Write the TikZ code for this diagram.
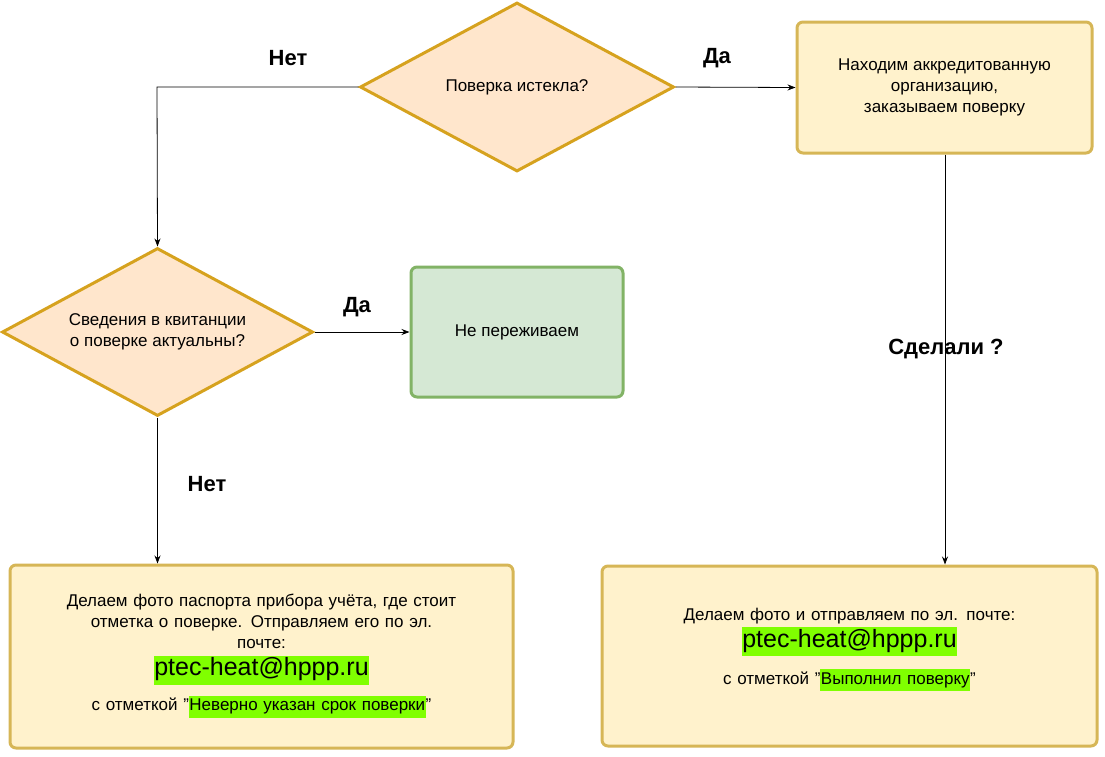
\documentclass[tikz,border=0pt]{standalone}
\usepackage{fontspec}
\setmainfont{Liberation Sans}
\usetikzlibrary{shapes.geometric,arrows.meta}
\definecolor{dfill}{HTML}{FFE6CC}
\definecolor{gold}{HTML}{D6A21E}
\definecolor{yfill}{HTML}{FFF2CC}
\definecolor{yline}{HTML}{D6B656}
\definecolor{gfill}{HTML}{D5E8D4}
\definecolor{gline}{HTML}{82B366}
\definecolor{hl}{HTML}{80FF00}
\newcommand{\hlt}[1]{{\setlength{\fboxsep}{0.5pt}\colorbox{hl}{\strut #1}}}
\begin{document}
\begin{tikzpicture}[x=1pt,y=-1pt,font=\fontsize{17}{21}\selectfont,
  dia/.style={diamond,draw=gold,fill=dfill,line width=3pt,inner sep=0pt,align=center},
  box/.style={draw=yline,fill=yfill,line width=3pt,rounded corners=6pt,align=center,inner sep=0pt},
  gbox/.style={draw=gline,fill=gfill,line width=3pt,rounded corners=6pt,align=center,inner sep=0pt},
  arr/.style={-{Stealth[length=8pt,width=6pt]},line width=0.8pt},
  lab/.style={font=\fontsize{22}{26}\selectfont\bfseries}]
\useasboundingbox (0,0) rectangle (1105,756);
\node[dia,minimum width=314pt,minimum height=169pt,aspect=1.86] (d1) at (517,87) {Поверка истекла?};
\node[box,minimum width=295pt,minimum height=131pt] (b1) at (944.5,87.5) {Находим аккредитованную\\организацию,\\заказываем поверку};
\node[dia,minimum width=311pt,minimum height=168pt,aspect=1.85] (d2) at (157.5,332) {Сведения в квитанции\\о поверке актуальны?};
\node[gbox,minimum width=212pt,minimum height=130pt] (g) at (517,332) {Не переживаем};
\node[box,minimum width=503pt,minimum height=183pt] (b2) at (261.5,656.5) {};
\node[align=center,text width=500pt] (t2) at (261.5,656) {Делаем фото паспорта прибора учёта, где стоит\\отметка о поверке. Отправляем его по эл.\\почте:\\[6pt]{\fontsize{25}{28}\selectfont\hlt{ptec-heat@hppp.ru}}\\[10pt]с отметкой "\hlt{Неверно указан срок поверки}"};
\node[box,minimum width=495pt,minimum height=180pt] (b3) at (849.5,656) {};
\node[align=center,text width=490pt] (t3) at (849.5,650) {Делаем фото и отправляем по эл. почте:\\[2pt]{\fontsize{25}{28}\selectfont\hlt{ptec-heat@hppp.ru}}\\[12pt]с отметкой "\hlt{Выполнил поверку}"};
\coordinate (c1) at (157,87);
\draw[arr] (d1.west) -- (c1) -- (d2.north);
\draw[arr] (d1.east) -- (b1.west);
\draw[arr] (d2.east) -- (g.west);
\draw[arr] (d2.south) -- (b2.north -| d2.south);
\draw[arr] (b1.south -| 945,0) -- (b3.north -| 945,0);
\node[lab] (l1) at (288,58) {Нет};
\node[lab] (l2) at (717,58) {Да};
\node[lab] (l3) at (357,307) {Да};
\node[lab] (l4) at (207,484) {Нет};
\node[lab] (l5) at (946,349) {Сделали ?};
\end{tikzpicture}
\end{document}
